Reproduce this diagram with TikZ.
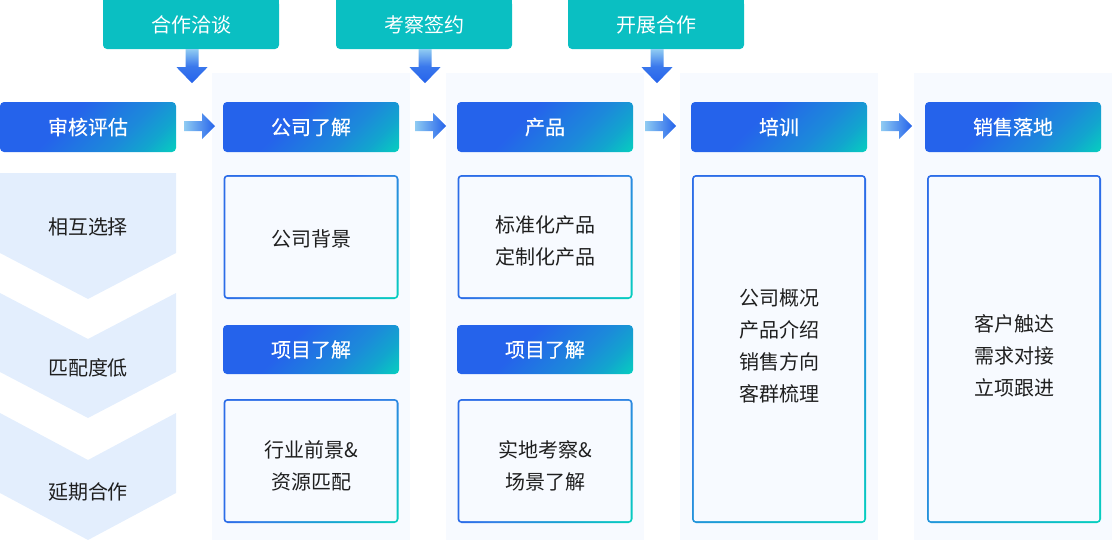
\documentclass[tikz,border=0pt]{standalone}
\usepackage{fontspec}
\setmainfont{Noto Sans CJK SC}
\newfontfamily\hfont[FakeBold=0.3]{Noto Sans CJK SC}
\usetikzlibrary{calc}
\definecolor{hblue}{HTML}{2563EB}
\definecolor{hmid}{HTML}{1C8ADA}
\definecolor{hmidb}{HTML}{12A5CE}
\definecolor{hteal}{HTML}{06CFBF}
\definecolor{bblue}{HTML}{2C6DE8}
\definecolor{btop}{HTML}{3380E6}
\definecolor{bmid}{HTML}{18A2D3}
\definecolor{topteal}{HTML}{0ABFC2}
\definecolor{chev}{HTML}{E3EEFD}
\definecolor{colbg}{HTML}{F7FAFF}
\definecolor{txt}{HTML}{1F1F1F}
\definecolor{arrlight}{HTML}{8FCBF2}
\definecolor{arrblue}{HTML}{2563EB}
\pgfdeclareverticalshading{hdrshade}{100bp}{color(0bp)=(hblue); color(45bp)=(hblue); color(58bp)=(hmid); color(64bp)=(hmidb); color(70bp)=(hteal); color(100bp)=(hteal)}
\pgfdeclareverticalshading{bordshade}{100bp}{color(0bp)=(bblue); color(45bp)=(bblue); color(52bp)=(btop); color(68bp)=(bmid); color(85bp)=(hteal); color(100bp)=(hteal)}
\newcommand\myfs{\fontsize{20pt}{32pt}\selectfont}
\tikzset{
  hdr/.style={rounded corners=4pt, minimum width=176pt, minimum height=50pt, inner sep=0pt,
    text=white, font=\hfont\myfs,
    path picture={\shade[shading=hdrshade, shading angle=225]
      ($(path picture bounding box.center)+(-100pt,-100pt)$) rectangle
      ($(path picture bounding box.center)+(100pt,100pt)$);}},
  topbox/.style={fill=topteal, rounded corners=4pt, minimum width=176pt, minimum height=49pt,
    inner sep=0pt, text=white, font=\myfs},
  obox/.style={rounded corners=4pt, minimum width=#1, inner sep=0pt,
    path picture={\shade[shading=bordshade, shading angle=225]
      (path picture bounding box.south west) rectangle (path picture bounding box.north east);
      \fill[colbg, rounded corners=2.5pt]
      ($(path picture bounding box.south west)+(1.8pt,1.8pt)$) rectangle
      ($(path picture bounding box.north east)+(-1.8pt,-1.8pt)$);}},
  body/.style={text=txt, font=\myfs, align=center, inner sep=0pt},
  colbgs/.style={fill=colbg, minimum width=198pt, minimum height=467pt, inner sep=0pt},
  chevs/.style={fill=chev},
  rarr/.style={left color=arrlight, right color=arrblue},
  darr/.style={top color=arrlight, bottom color=arrblue, middle color=arrblue!80!arrlight},
}
\begin{document}
\begin{tikzpicture}[x=1pt,y=-1pt]
\useasboundingbox (0,0) rectangle (1112,541);

% column backgrounds
\node[colbgs] (c2) at (311,306.5) {};
\node[colbgs] (c3) at (544.5,306.5) {};
\node[colbgs] (c4) at (778.5,306.5) {};
\node[colbgs] (c5) at (1012.5,306.5) {};

% chevrons
\fill[chevs] (0,173) -- (176,173) -- (176,253) -- (88,299) -- (0,253) -- cycle;
\fill[chevs] (0,293) -- (88,339) -- (176,293) -- (176,372) -- (88,418) -- (0,372) -- cycle;
\fill[chevs] (0,413) -- (88,460) -- (176,413) -- (176,493) -- (88,540) -- (0,493) -- cycle;
\node[body] (v1) at (88,227) {相互选择};
\node[body] (v2) at (88,368) {匹配度低};
\node[body] (v3) at (88,492) {延期合作};

% top boxes
\node[topbox] (t1) at (191,24.5) {合作洽谈};
\node[topbox] (t2) at (424,24.5) {考察签约};
\node[topbox] (t3) at (656,24.5) {开展合作};
\fill[topteal] (t1.north west) rectangle ($(t1.north east)+(0pt,-6pt)$);
\fill[topteal] (t2.north west) rectangle ($(t2.north east)+(0pt,-6pt)$);
\fill[topteal] (t3.north west) rectangle ($(t3.north east)+(0pt,-6pt)$);

% down arrows
\shade[darr] ($(t1.south)+(1pt,0pt)$) ++(-6.5,0) -- ++(13,0) -- ++(0,18) -- ++(9,0) -- ++(-15.5,16) -- ++(-15.5,-16) -- ++(9,0) -- cycle;
\shade[darr] ($(t2.south)+(1pt,0pt)$) ++(-6.5,0) -- ++(13,0) -- ++(0,18) -- ++(9,0) -- ++(-15.5,16) -- ++(-15.5,-16) -- ++(9,0) -- cycle;
\shade[darr] ($(t3.south)+(1pt,0pt)$) ++(-6.5,0) -- ++(13,0) -- ++(0,18) -- ++(9,0) -- ++(-15.5,16) -- ++(-15.5,-16) -- ++(9,0) -- cycle;

% headers
\node[hdr] (h1) at (88,127) {审核评估};
\node[hdr] (h2) at (311,127) {公司了解};
\node[hdr] (h3) at (545,127) {产品};
\node[hdr] (h4) at (779,127) {培训};
\node[hdr] (h5) at (1013,127) {销售落地};
\node[hdr, minimum height=49pt] (s2) at (311,349.5) {项目了解};
\node[hdr, minimum height=49pt] (s3) at (545,349.5) {项目了解};

% right arrows
\coordinate (r1) at (184,126);
\coordinate (r2) at (415,126);
\coordinate (r3) at (645,126);
\coordinate (r4) at (881,126);
\foreach \r in {r1,r2,r3,r4}{
  \shade[rarr] (\r) ++(0,-5) -- ++(18,0) -- ++(0,-8) -- ++(13,13) -- ++(-13,13) -- ++(0,-8) -- ++(-18,0) -- cycle;
}

% outlined boxes
\node[obox=175pt, minimum height=124pt] (b21) at (311,237) {};
\node[obox=175pt, minimum height=124pt] (b22) at (311,461) {};
\node[obox=175pt, minimum height=124pt] (b31) at (545,237) {};
\node[obox=175pt, minimum height=124pt] (b32) at (545,461) {};
\node[obox=174pt, minimum height=348pt] (b4) at (779,349) {};
\node[obox=174pt, minimum height=348pt] (b5) at (1014,349) {};

\node[body] (x21) at (311,239) {公司背景};
\node[body] (x22) at (311,466) {行业前景\&\\资源匹配};
\node[body] (x31) at (545,241) {标准化产品\\定制化产品};
\node[body] (x32) at (545,466) {实地考察\&\\场景了解};
\node[body] (x4) at (779,346) {公司概况\\产品介绍\\销售方向\\客群梳理};
\node[body] (x5) at (1014,355.5) {客户触达\\需求对接\\立项跟进};
\end{tikzpicture}
\end{document}
